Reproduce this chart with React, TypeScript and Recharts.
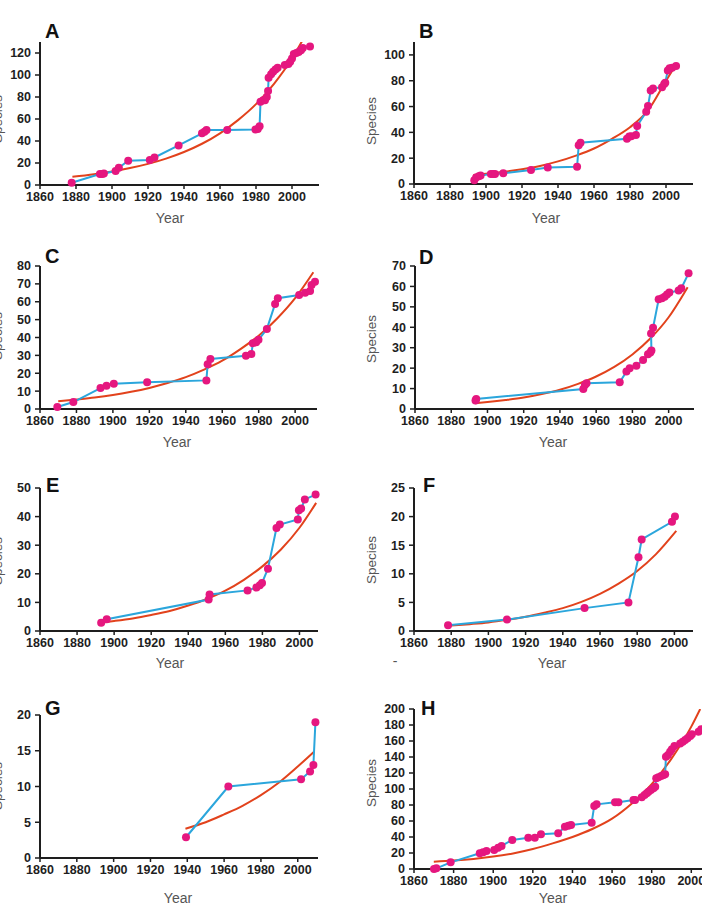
import React from "react";
import { LineChart, Line, XAxis, YAxis } from "recharts";

const PINK = "#e5177f";
const BLUE = "#2ba6dc";
const RED = "#e2421c";
const INK = "#1e1e1e";
const GREY = "#555555";
const FONT = "'Liberation Sans', Arial, Helvetica, sans-serif";

const yearTicks = [1860, 1880, 1900, 1920, 1940, 1960, 1980, 2000];

// A
const aYears = [1877.6, 1893.3, 1894.6, 1895.5, 1902, 1903.8, 1909, 1921, 1923.6, 1937, 1950, 1951.4, 1952.5, 1964, 1979.7, 1981, 1982, 1982.5, 1984, 1985, 1986, 1986.7, 1987, 1988.4, 1989.5, 1990.8, 1992, 1996, 1998, 1999, 2000, 2001, 2002.4, 2003.7, 2005, 2006, 2010];
const aCounts = [2, 10, 10, 10.5, 12.7, 15.7, 22, 22.7, 25, 36, 47, 48.4, 50, 50, 50.5, 51, 53.5, 75.6, 77, 77, 80, 85.5, 97.6, 100.7, 103, 105, 106.7, 109, 110, 112, 115, 119, 120, 121, 122.4, 124.5, 126];
const aFitYears = [1878, 1890, 1900, 1910, 1920, 1930, 1940, 1950, 1960, 1970, 1980, 1990, 2000, 2006];
const aFitCounts = [7.5, 9.8, 12.3, 15.4, 19.2, 24, 30, 37.5, 47, 59, 73.5, 92, 115, 132];

// B
const bYears = [1893.5, 1894.5, 1896, 1897, 1902.7, 1904, 1905, 1909.6, 1925, 1934.3, 1950.6, 1951.5, 1952.5, 1978.3, 1979.6, 1980.7, 1983.3, 1984, 1989, 1990, 1991.5, 1992.8, 1997.8, 1999, 1999.6, 2001, 2002, 2003.4, 2005.6];
const bCounts = [3, 5, 6, 6.5, 7.8, 7.8, 7.8, 8.3, 10.9, 12.7, 13.4, 30, 32, 35, 36.7, 37, 38, 45, 56, 60.5, 72.4, 74, 75, 77.5, 78.5, 88, 89.7, 90, 91.5];
const bFitYears = [1893, 1900, 1910, 1920, 1930, 1940, 1950, 1960, 1970, 1980, 1990, 2000, 2004];
const bFitCounts = [7, 8, 9.5, 11.5, 14, 17.5, 22, 27.5, 35, 44, 57, 80, 89];

// C
const cYears = [1869.5, 1878.3, 1893.2, 1896.5, 1900.5, 1918.8, 1951.3, 1952, 1953.5, 1973, 1976, 1976.8, 1978.6, 1979.9, 1984.5, 1989, 1990.5, 2002.2, 2005.5, 2008.2, 2009, 2010.9];
const cCounts = [1.1, 3.9, 11.7, 13, 14.1, 14.9, 16, 25, 28, 29.8, 30.7, 36.8, 37.4, 38.7, 44.8, 58.8, 62, 63.8, 65, 66, 69.4, 71.2];
const cFitYears = [1870, 1880, 1890, 1900, 1910, 1920, 1930, 1940, 1950, 1960, 1970, 1980, 1990, 2000, 2010];
const cFitCounts = [4.3, 5.3, 6.4, 7.8, 9.6, 11.8, 14.5, 17.8, 22, 27, 33.5, 41, 50.5, 62, 76.5];

// D
const dYears = [1893.4, 1893.8, 1952.9, 1953.8, 1954.7, 1973, 1976.7, 1978.5, 1982.2, 1985.9, 1988.6, 1989.9, 1990.5, 1990.3, 1991.4, 1994.5, 1996.3, 1997.8, 1999.1, 2000.4, 2005.5, 2007, 2011];
const dCounts = [4.2, 4.9, 9.8, 11.8, 12.6, 13.1, 18.3, 19.9, 21.2, 24, 26.8, 27.7, 28.6, 37, 39.8, 53.7, 54.2, 55, 56.1, 57, 58, 59.1, 66.4];
const dFitYears = [1893, 1900, 1910, 1920, 1930, 1940, 1950, 1960, 1970, 1980, 1990, 2000, 2010.5];
const dFitCounts = [2.8, 3.4, 4.4, 5.6, 7.3, 9.4, 12.3, 15.9, 20.6, 26.7, 34.6, 44.9, 59.6];

// E
const eYears = [1893, 1896, 1951, 1951.5, 1972, 1976.8, 1978.6, 1979.8, 1983, 1987.6, 1989.4, 1999.1, 1999.7, 2000.9, 2002.9, 2008.7];
const eCounts = [2.9, 4.1, 11, 12.8, 14.2, 15.2, 16, 16.8, 21.8, 36, 37.2, 39, 42.2, 42.8, 46, 47.7];
const eFitYears = [1895, 1900, 1910, 1920, 1930, 1940, 1950, 1960, 1970, 1980, 1990, 2000, 2009];
const eFitCounts = [3.1, 3.5, 4.4, 5.6, 7, 8.9, 11.2, 14.1, 17.9, 22.6, 28.5, 36.1, 44.8];

// F
const fYears = [1878.3, 1910, 1951.7, 1975.3, 1980.7, 1982.4, 1998.7, 2000.3];
const fCounts = [1, 2, 4, 5, 12.9, 16, 19.1, 20];
const fFitYears = [1878, 1890, 1900, 1910, 1920, 1930, 1940, 1950, 1960, 1970, 1980, 1990, 2001];
const fFitCounts = [0.9, 1.2, 1.5, 1.95, 2.5, 3.2, 4, 5.1, 6.5, 8.3, 10.5, 13.4, 17.5];

// G
const gYears = [1939.3, 1962.3, 2001.8, 2006.7, 2008.5, 2009.6];
const gCounts = [2.9, 10, 11, 12.1, 13, 19];
const gFitYears = [1939, 1950, 1960, 1970, 1980, 1990, 2000, 2009];
const gFitCounts = [4.1, 5, 6.1, 7.3, 8.8, 10.6, 12.8, 14.9];

// H
const hYears = [1870.1, 1871.3, 1878.5, 1893.2, 1894.9, 1896.6, 1900.5, 1902.5, 1904.2, 1909.6, 1917.7, 1921, 1924.1, 1932.8, 1936.2, 1937.9, 1939.3, 1949.7, 1951, 1952.2, 1961.5, 1963.2, 1970.8, 1971.6, 1975, 1976.4, 1977.5, 1978.4, 1979.6, 1980.9, 1981.8, 1982.3, 1983.4, 1984.8, 1986, 1986.8, 1987.2, 1988.2, 1989.3, 1990.2, 1991.5, 1994.4, 1995.7, 1996.9, 1998.1, 1999.5, 2000.3, 2003.7, 2005];
const hCounts = [0, 0.8, 8.3, 19.6, 20.8, 22.5, 23.8, 26.7, 28.8, 36.3, 39.2, 39.2, 43.3, 44.6, 52.9, 54.2, 55, 57.9, 78.8, 80.8, 83.3, 83.3, 86.3, 86.3, 89.6, 92.5, 94.6, 96.7, 98.8, 100.8, 102.9, 113.3, 114.6, 116.3, 117.5, 118.3, 140.4, 142.5, 146.7, 149.6, 153.8, 157, 159.2, 161.3, 163.3, 166.3, 168.3, 171.7, 174.6];
const hFitYears = [1870, 1880, 1890, 1900, 1910, 1920, 1930, 1940, 1950, 1960, 1970, 1980, 1990, 2000, 2004.5];
const hFitCounts = [9.2, 10.5, 12.5, 15.5, 19.5, 25, 32, 40, 50, 63, 82, 106, 138, 178, 200];

type Pt = { year: number; count: number };
const zip = (xs: number[], ys: number[]): Pt[] => xs.map((x, i) => ({ year: x, count: ys[i] }));
const steps = (max: number, step: number) => {
  const out: number[] = [];
  for (let v = 0; v <= max; v += step) out.push(v);
  return out;
};

interface Panel {
  letter: string;
  // pixel box of the plot area on the page
  left: number;
  right: number;
  top: number;
  bottom: number;
  xMax: number;
  yMax: number;
  yTicks: number[];
  obs: Pt[];
  fit: Pt[];
  letterX: number;
  letterY: number;
  yearX: number;
  yearY: number;
  speciesX: number;
  speciesY: number;
}

const panels: Panel[] = [
  { letter: "A", left: 40, right: 319, top: 42, bottom: 185, xMax: 2015, yMax: 130, yTicks: steps(120, 20), obs: zip(aYears, aCounts), fit: zip(aFitYears, aFitCounts), letterX: 45, letterY: 38, yearX: 170, yearY: 223, speciesX: 2, speciesY: 119 },
  { letter: "B", left: 414, right: 693, top: 42, bottom: 184, xMax: 2015, yMax: 110, yTicks: steps(100, 20), obs: zip(bYears, bCounts), fit: zip(bFitYears, bFitCounts), letterX: 419, letterY: 38, yearX: 546, yearY: 223, speciesX: 376, speciesY: 121 },
  { letter: "C", left: 40, right: 317, top: 266, bottom: 409, xMax: 2012, yMax: 80, yTicks: steps(80, 10), obs: zip(cYears, cCounts), fit: zip(cFitYears, cFitCounts), letterX: 45, letterY: 263, yearX: 177, yearY: 447, speciesX: 2, speciesY: 336 },
  { letter: "D", left: 415, right: 694, top: 266, bottom: 409, xMax: 2014, yMax: 70, yTicks: steps(70, 10), obs: zip(dYears, dCounts), fit: zip(dFitYears, dFitCounts), letterX: 419, letterY: 264, yearX: 553, yearY: 447, speciesX: 376, speciesY: 339 },
  { letter: "E", left: 40, right: 318, top: 488, bottom: 631, xMax: 2010, yMax: 50, yTicks: steps(50, 10), obs: zip(eYears, eCounts), fit: zip(eFitYears, eFitCounts), letterX: 46, letterY: 492, yearX: 170, yearY: 668, speciesX: 2, speciesY: 561 },
  { letter: "F", left: 414, right: 693, top: 488, bottom: 631, xMax: 2010, yMax: 25, yTicks: steps(25, 5), obs: zip(fYears, fCounts), fit: zip(fFitYears, fFitCounts), letterX: 423, letterY: 492, yearX: 552, yearY: 668, speciesX: 376, speciesY: 560 },
  { letter: "G", left: 40, right: 318, top: 715, bottom: 858, xMax: 2011, yMax: 20, yTicks: steps(20, 5), obs: zip(gYears, gCounts), fit: zip(gFitYears, gFitCounts), letterX: 45, letterY: 715, yearX: 178, yearY: 903, speciesX: 2, speciesY: 786 },
  { letter: "H", left: 414, right: 721, top: 709, bottom: 869, xMax: 2015, yMax: 200, yTicks: steps(200, 20), obs: zip(hYears, hCounts), fit: zip(hFitYears, hFitCounts), letterX: 421, letterY: 715, yearX: 553, yearY: 903, speciesX: 376, speciesY: 783 },
];

const tickStyle = { fill: INK, fontSize: 12.5, fontWeight: 700, fontFamily: FONT };

function PanelChart({ p }: { p: Panel }) {
  const yw = 50;
  const xh = 40;
  const mt = 10;
  const mr = 10;
  const width = p.right - p.left + yw + mr;
  const height = p.bottom - p.top + mt + xh;
  return (
    <div style={{ position: "absolute", left: p.left - yw, top: p.top - mt }}>
      <LineChart width={width} height={height} margin={{ top: mt, right: mr, bottom: 0, left: 0 }}>
        <XAxis
          type="number"
          dataKey="year"
          domain={[1860, p.xMax]}
          ticks={yearTicks}
          interval={0}
          allowDataOverflow
          height={xh}
          tick={tickStyle}
          tickSize={4}
          tickMargin={3}
          axisLine={{ stroke: INK, strokeWidth: 2 }}
          tickLine={{ stroke: INK, strokeWidth: 1.5 }}
        />
        <YAxis
          type="number"
          dataKey="count"
          domain={[0, p.yMax]}
          ticks={p.yTicks}
          interval={0}
          allowDataOverflow
          width={yw}
          tick={tickStyle}
          tickSize={5}
          tickMargin={4}
          axisLine={{ stroke: INK, strokeWidth: 2 }}
          tickLine={{ stroke: INK, strokeWidth: 1.5 }}
        />
        <Line
          data={p.fit}
          dataKey="count"
          type="monotone"
          stroke={RED}
          strokeWidth={2}
          dot={false}
          activeDot={false}
          isAnimationActive={false}
        />
        <Line
          data={p.obs}
          dataKey="count"
          type="linear"
          stroke={BLUE}
          strokeWidth={2}
          dot={{ r: 4, fill: PINK, stroke: "none", strokeWidth: 0, clipDot: false }}
          activeDot={false}
          isAnimationActive={false}
        />
      </LineChart>
    </div>
  );
}

export default function App() {
  return (
    <div style={{ position: "absolute", left: 0, top: 0, width: 702, height: 913, overflow: "hidden", background: "#fff" }}>
      {panels.map((p) => (
        <PanelChart key={p.letter} p={p} />
      ))}
      <svg width={702} height={913} style={{ position: "absolute", left: 0, top: 0, pointerEvents: "none" }}>
        {panels.map((p) => (
          <g key={p.letter}>
            <text x={p.letterX} y={p.letterY} fontFamily={FONT} fontWeight={700} fontSize={20} fill="#111">
              {p.letter}
            </text>
            <text x={p.yearX} y={p.yearY} textAnchor="middle" fontFamily={FONT} fontSize={14} fill={GREY}>
              Year
            </text>
            <text
              transform={`translate(${p.speciesX},${p.speciesY}) rotate(-90)`}
              textAnchor="middle"
              fontFamily={FONT}
              fontSize={13.5}
              fill={GREY}
            >
              Species
            </text>
          </g>
        ))}
        <text x={395} y={666} textAnchor="middle" fontFamily={FONT} fontSize={14} fill={GREY}>
          -
        </text>
      </svg>
    </div>
  );
}
